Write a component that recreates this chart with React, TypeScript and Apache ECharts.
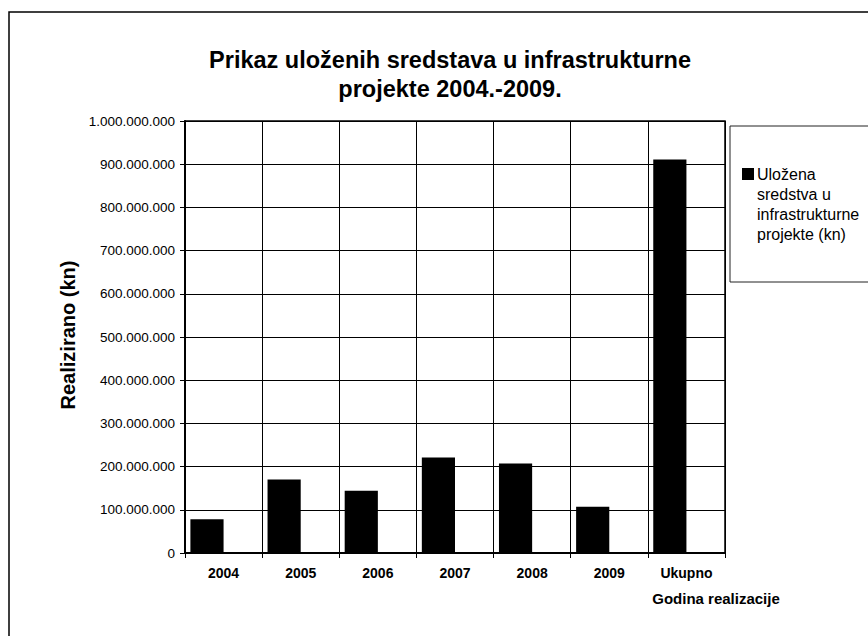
import React, { useEffect, useRef } from "react";
import * as echarts from "echarts";

const categories = ["2004", "2005", "2006", "2007", "2008", "2009", "Ukupno"];
const investedValues = [78000000, 170000000, 144000000, 221000000, 207000000, 107000000, 911000000];
const emptySeriesValues = [0, 0, 0, 0, 0, 0, 0];
const yTicksMin = 0;
const yTicksMax = 1000000000;
const yTicksInterval = 100000000;
const titleText = "Prikaz uloženih sredstava u infrastrukturne\nprojekte 2004.-2009.";
const seriesName = "Uložena sredstva u infrastrukturne projekte (kn)";
const legendLines = "Uložena\nsredstva u\ninfrastrukturne\nprojekte (kn)";
const yAxisTitle = "Realizirano (kn)";
const xAxisTitle = "Godina realizacije";

const fmt = (v: number) => String(v).replace(/\B(?=(\d{3})+(?!\d))/g, ".");

export default function App() {
  const ref = useRef<HTMLDivElement>(null);
  useEffect(() => {
    if (!ref.current) return;
    const chart = echarts.init(ref.current, null, { renderer: "svg" });
    const font = "'Liberation Sans', Arial, sans-serif";
    chart.setOption({
      animation: false,
      backgroundColor: "#fff",
      textStyle: { fontFamily: font },
      title: {
        text: titleText,
        left: 445,
        top: 40,
        textAlign: "center",
        textStyle: { fontFamily: font, fontSize: 23.5, fontWeight: "bold", color: "#000", lineHeight: 29 },
      },
      grid: {
        left: 185,
        right: 143,
        top: 121,
        bottom: 83,
        show: true,
        borderColor: "#000",
        borderWidth: 1.5,
        containLabel: false,
      },
      xAxis: {
        type: "category",
        data: categories,
        boundaryGap: true,
        axisLine: { show: true, lineStyle: { color: "#000", width: 2 } },
        axisTick: { show: true, length: 5, alignWithLabel: false, lineStyle: { color: "#000" } },
        axisLabel: { color: "#000", fontFamily: font, fontSize: 14, fontWeight: "bold", margin: 13 },
        splitLine: { show: true, lineStyle: { color: "#000", width: 1 } },
      },
      yAxis: {
        type: "value",
        min: yTicksMin,
        max: yTicksMax,
        interval: yTicksInterval,
        axisLine: { show: true, lineStyle: { color: "#000", width: 2 } },
        axisTick: { show: true, length: 5, lineStyle: { color: "#000" } },
        axisLabel: { color: "#000", fontFamily: font, fontSize: 13.5, margin: 10, formatter: (v: number) => fmt(v) },
        splitLine: { show: true, lineStyle: { color: "#000", width: 1 } },
      },
      series: [
        {
          name: seriesName,
          type: "bar",
          data: investedValues,
          itemStyle: { color: "#000" },
          barGap: "0%",
          barCategoryGap: "14%",
        },
        {
          name: "",
          type: "bar",
          data: emptySeriesValues,
          itemStyle: { color: "#000" },
          barGap: "0%",
          barCategoryGap: "14%",
        },
      ],
      graphic: [
        {
          type: "rect",
          shape: { x: 9, y: 12, width: 900, height: 700 },
          style: { fill: "none", stroke: "#000", lineWidth: 1.5 },
          silent: true,
        },
        {
          type: "rect",
          shape: { x: 730, y: 126, width: 200, height: 156 },
          style: { fill: "#fff", stroke: "#222", lineWidth: 1 },
          silent: true,
        },
        {
          type: "rect",
          shape: { x: 742, y: 168, width: 12, height: 12 },
          style: { fill: "#000" },
          silent: true,
        },
        {
          type: "text",
          x: 757,
          y: 164,
          style: { text: legendLines, fill: "#000", font: `16px ${font}`, lineHeight: 20, textVerticalAlign: "top" },
          silent: true,
        },
        {
          type: "text",
          x: 68,
          y: 335,
          rotation: Math.PI / 2,
          style: {
            text: yAxisTitle,
            fill: "#000",
            font: `bold 20px ${font}`,
            textAlign: "center",
            textVerticalAlign: "middle",
          },
          silent: true,
        },
        {
          type: "text",
          x: 716,
          y: 598,
          style: {
            text: xAxisTitle,
            fill: "#000",
            font: `bold 15px ${font}`,
            textAlign: "center",
            textVerticalAlign: "middle",
          },
          silent: true,
        },
      ],
    });
    return () => chart.dispose();
  }, []);
  return (
    <div
      ref={ref}
      style={{ position: "fixed", left: 0, top: 0, width: 868, height: 636, background: "#fff" }}
    />
  );
}
